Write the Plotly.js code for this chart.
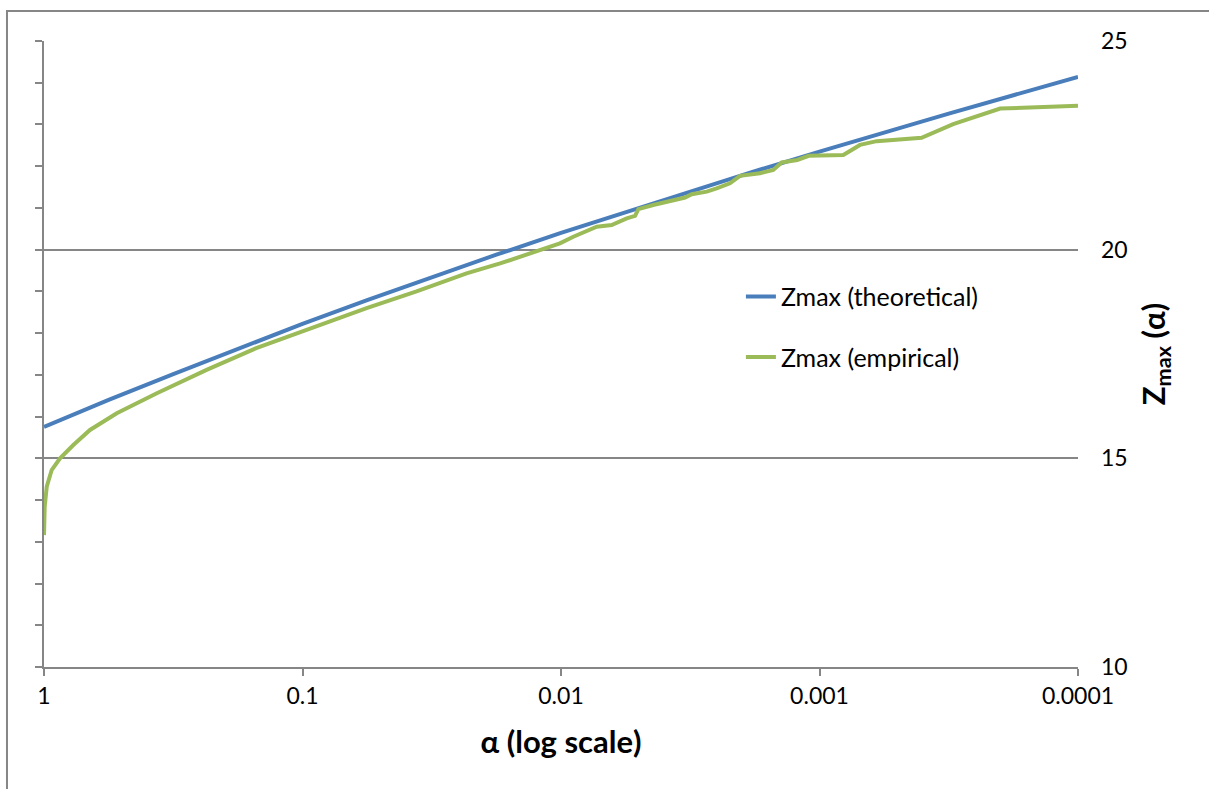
<!DOCTYPE html>
<html>
<head>
<meta charset="utf-8">
<script src="https://cdn.plot.ly/plotly-3.0.1.min.js"></script>
<style>
  html, body { margin: 0; padding: 0; background: #ffffff; }
  #chart { width: 1209px; height: 789px; }
</style>
</head>
<body>
<div id="chart"></div>
<script>
// Theoretical Zmax (alpha)
const alphaTheoretical = [1, 0.5623, 0.3162, 0.1778, 0.1, 0.05623, 0.03162, 0.01778, 0.01,
  0.005623, 0.003162, 0.001778, 0.001, 0.0005623, 0.0003162, 0.0001778, 0.0001];
const zTheoretical = [15.75, 16.40, 17.02, 17.63, 18.22, 18.79, 19.34, 19.88, 20.40,
  20.90, 21.40, 21.88, 22.35, 22.81, 23.26, 23.70, 24.14];

// Empirical Zmax (alpha)
const alphaEmpirical = [1, 0.994, 0.976, 0.934, 0.867, 0.770, 0.664, 0.523, 0.366, 0.235,
  0.151, 0.0964, 0.0565, 0.0362, 0.0232, 0.0172, 0.0128, 0.0101, 0.00896, 0.00727,
  0.00637, 0.00557, 0.00517, 0.00502, 0.00440, 0.00379, 0.00331, 0.00312, 0.00273,
  0.00250, 0.00222, 0.00203, 0.00170, 0.00151, 0.00140, 0.00122, 0.00110, 0.000809,
  0.000697, 0.000601, 0.000403, 0.000304, 0.000200, 0.0001];
const zEmpirical = [13.16, 13.84, 14.32, 14.72, 15.00, 15.32, 15.68, 16.08, 16.56, 17.12,
  17.64, 18.08, 18.60, 19.00, 19.43, 19.67, 19.95, 20.15, 20.31, 20.55,
  20.59, 20.75, 20.81, 20.97, 21.07, 21.17, 21.25, 21.33, 21.39,
  21.47, 21.59, 21.77, 21.83, 21.91, 22.09, 22.15, 22.25, 22.27,
  22.51, 22.60, 22.68, 23.01, 23.38, 23.45];

const xTickVals = [1, 0.1, 0.01, 0.001, 0.0001];
const xTickText = ['1', '0.1', '0.01', '0.001', '0.0001'];
const yTickVals = [10, 15, 20, 25];
const yTickText = ['10', '15', '20', '25'];

const seriesNames = ['Zmax (theoretical)', 'Zmax (empirical)'];

const FONT = 'Lato, "Open Sans", "Liberation Sans", sans-serif';
const GRAY = '#868686';

const traces = [
  {
    x: alphaTheoretical, y: zTheoretical, type: 'scatter', mode: 'lines',
    name: seriesNames[0], legendgroup: 'a',
    line: { color: '#4A7EBB', width: 4 }, hoverinfo: 'skip'
  },
  {
    x: alphaEmpirical, y: zEmpirical, type: 'scatter', mode: 'lines',
    name: seriesNames[1], legendgroup: 'b',
    line: { color: '#9BBB59', width: 4 }, hoverinfo: 'skip'
  },
  {
    x: [], y: [], type: 'scatter', mode: 'lines', yaxis: 'y2',
    showlegend: false, hoverinfo: 'skip'
  }
];

const layout = {
  width: 1209, height: 789,
  margin: { l: 44, r: 131, t: 41, b: 122, pad: 0 },
  paper_bgcolor: '#ffffff', plot_bgcolor: '#ffffff',
  font: { family: FONT, size: 23, color: '#000000' },
  showlegend: true,
  legend: {
    x: 0.674, y: 0.628, xanchor: 'left', yanchor: 'top',
    bgcolor: 'rgba(0,0,0,0)', borderwidth: 0,
    font: { family: FONT, size: 25, color: '#000000' },
    traceorder: 'grouped', tracegroupgap: 25, itemwidth: 30
  },
  xaxis: {
    type: 'log', range: [0, -4], autorange: false,
    tickvals: xTickVals, ticktext: xTickText,
    ticks: 'outside', ticklen: 7, tickwidth: 2, tickcolor: GRAY,
    showline: true, linecolor: GRAY, linewidth: 2,
    showgrid: false, zeroline: false,
    tickfont: { family: FONT, size: 23, color: '#000000' },
    title: { text: '<b>α (log scale)</b>', font: { family: FONT, size: 31, color: '#000000' }, standoff: 24 },
    automargin: false
  },
  yaxis: {
    range: [10, 25], autorange: false, side: 'left',
    dtick: 5, tick0: 10,
    ticks: 'outside', ticklen: 7, tickwidth: 2, tickcolor: GRAY,
    minor: { dtick: 1, ticks: 'outside', ticklen: 7, tickwidth: 2, tickcolor: GRAY, showgrid: false },
    showline: true, linecolor: GRAY, linewidth: 2,
    showgrid: true, gridcolor: GRAY, gridwidth: 2,
    zeroline: false, showticklabels: false, automargin: false
  },
  yaxis2: {
    overlaying: 'y', side: 'right', range: [10, 25], autorange: false,
    tickvals: yTickVals, ticktext: yTickText,
    ticks: '', showline: false, showgrid: false, zeroline: false,
    ticklabelstandoff: 22,
    tickfont: { family: FONT, size: 23, color: '#000000' },
    title: { text: '<b>Z<sub>max</sub> (α)</b>', font: { family: FONT, size: 31, color: '#000000' }, standoff: 16 },
    automargin: false
  },
  shapes: [
    {
      type: 'rect', xref: 'paper', yref: 'paper',
      x0: -0.0358, x1: 1.2, y0: -0.3, y1: 1.0479,
      line: { color: GRAY, width: 2 }, fillcolor: 'rgba(0,0,0,0)', layer: 'below'
    }
  ]
};

Plotly.newPlot('chart', traces, layout, { staticPlot: true, displayModeBar: false });
</script>
</body>
</html>
